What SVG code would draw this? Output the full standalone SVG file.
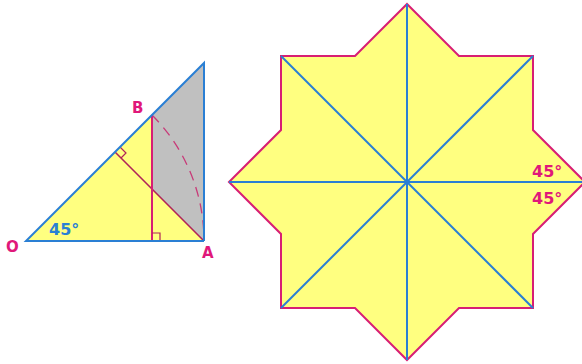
<svg xmlns="http://www.w3.org/2000/svg" width="582" height="364" viewBox="0 0 582 364">
<style>
.blue{stroke:#2a7fd4;stroke-width:2;fill:none}
.pink{stroke:#d81e74;stroke-width:2;fill:none}
.dark{stroke:#b02458;stroke-width:1.6;fill:none}
.thin{stroke:#b02458;stroke-width:1.2;fill:none}
.lb{font-family:"DejaVu Sans",Verdana,sans-serif;font-weight:bold;font-size:15px}
.lp{fill:#e0187a}
.lbl{fill:#2a80d4}
</style>
<rect width="582" height="364" fill="#ffffff"/>
<g id="triangle">
<polygon points="26,241 204,63 204,241" fill="#ffff80"/>
<polygon points="152,115 204,63 204,241 152,189" fill="#c0c0c0"/>
<path class="pink" d="M152,115 A178,178 0 0 1 204,241" stroke-dasharray="10,7" style="stroke-width:1.3;stroke:#c83a78"/>
<line class="dark" x1="204" y1="241" x2="115" y2="152"/>
<line class="pink" x1="152" y1="115" x2="152" y2="241"/>
<polyline class="thin" points="152,233 160,233 160,241"/>
<polyline class="thin" points="120,147 126,153 121,158"/>
<polyline class="blue" points="204,241 26,241 204,63 204,241"/>
</g>
<g id="star">
<polygon points="407,4 459,56 533,56 533,130 585,182 533,234 533,308 459,308 407,360 355,308 281,308 281,234 229,182 281,130 281,56 355,56" class="pink" style="fill:#ffff80"/>
<line class="blue" x1="407" y1="4" x2="407" y2="360"/>
<line class="blue" x1="229" y1="182" x2="585" y2="182"/>
<line class="blue" x1="281" y1="56" x2="533" y2="308"/>
<line class="blue" x1="533" y1="56" x2="281" y2="308"/>
</g>
<g id="labels" class="lb">
<text x="132" y="113" class="lp">B</text>
<text x="6" y="252" class="lp">O</text>
<text x="202" y="258" class="lp">A</text>
<text x="49" y="235" class="lbl" font-size="16">45°</text>
<text x="532" y="177" class="lp" font-size="16">45°</text>
<text x="532" y="204" class="lp" font-size="16">45°</text>
</g>
</svg>
